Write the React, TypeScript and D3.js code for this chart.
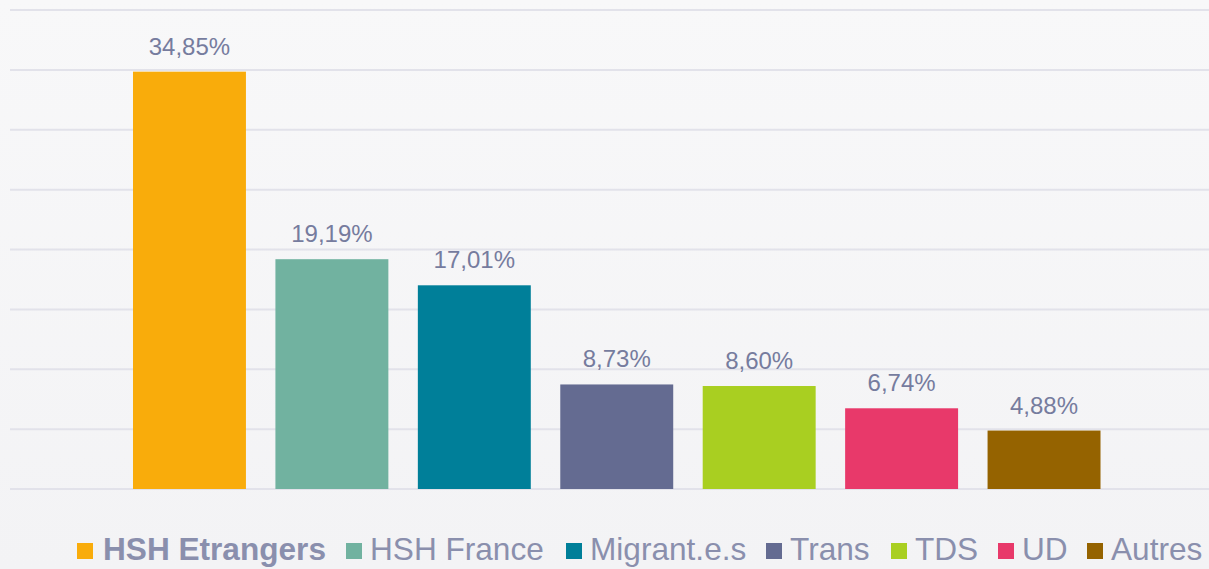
import React from "react";
import * as d3 from "d3";

const categories = ["HSH Etrangers", "HSH France", "Migrant.e.s", "Trans", "TDS", "UD", "Autres"];
const values = [34.85, 19.19, 17.01, 8.73, 8.6, 6.74, 4.88];
const colors = ["#F9AC0B", "#71B2A0", "#007F99", "#646B91", "#A9CF21", "#E8396A", "#956300"];
const yTicks = [0, 5, 10, 15, 20, 25, 30, 35, 40];
const legendX = [77, 346, 566, 766, 891, 998, 1087];

const W = 1209;
const H = 569;

export default function App() {
  const x = d3
    .scaleBand<string>()
    .domain(categories)
    .range([118.25, 1115.25])
    .paddingInner(0.207)
    .paddingOuter(0.1035);
  const y = d3.scaleLinear().domain([0, 40]).range([489, 10]);
  const fmt = (v: number) => v.toFixed(2).replace(".", ",") + "%";

  return (
    <div style={{ position: "fixed", left: 0, top: 0, width: W, height: H }}>
      <svg width={W} height={H} style={{ display: "block" }}>
        <defs>
          <linearGradient id="bg" x1="0" y1="0" x2="0" y2="1">
            <stop offset="0" stopColor="#f8f8f9" />
            <stop offset="1" stopColor="#f3f3f5" />
          </linearGradient>
        </defs>
        <rect x={0} y={0} width={W} height={H} fill="url(#bg)" />
        {yTicks.map((t) => (
          <line key={t} x1={10} x2={W} y1={y(t)} y2={y(t)} stroke="#e2e2ea" strokeWidth={2} />
        ))}
        {categories.map((c, i) => (
          <g key={c}>
            <rect
              x={x(c)}
              y={y(values[i])}
              width={x.bandwidth()}
              height={y(0) - y(values[i])}
              fill={colors[i]}
            />
            <text
              x={(x(c) as number) + x.bandwidth() / 2}
              y={y(values[i]) - 17}
              textAnchor="middle"
              fontFamily="Liberation Sans, Arial, sans-serif"
              fontSize={24}
              fill="#767c9e"
            >
              {fmt(values[i])}
            </text>
          </g>
        ))}
        {categories.map((c, i) => (
          <g key={"l" + c}>
            <rect x={legendX[i]} y={543} width={16} height={16} fill={colors[i]} />
            <text
              x={legendX[i] + (i === 0 ? 26 : 24)}
              y={560}
              fontFamily="Liberation Sans, Arial, sans-serif"
              fontSize={31.6}
              fontWeight={i === 0 ? "bold" : "normal"}
              fill="#8a8fad"
            >
              {c}
            </text>
          </g>
        ))}
      </svg>
    </div>
  );
}
